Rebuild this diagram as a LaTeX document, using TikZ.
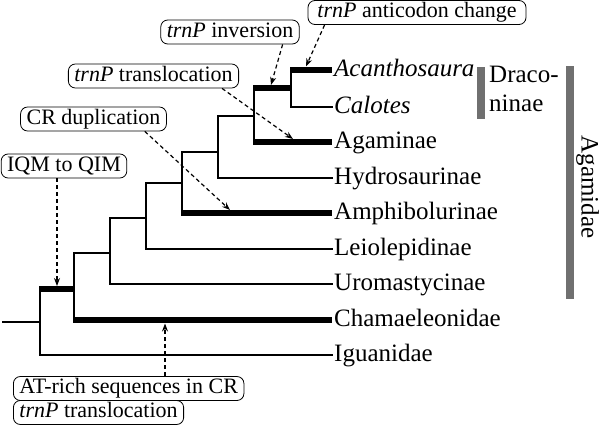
\documentclass[tikz,border=0pt]{standalone}
\usepackage{fontspec}
\setmainfont{Liberation Serif}
\usetikzlibrary{arrows.meta}
\definecolor{bargray}{RGB}{112,112,112}
\begin{document}
\begin{tikzpicture}[x=1pt,y=-1pt,
  br/.style={line width=2pt,line cap=rect},
  thickbr/.style={line width=5.5pt},
  leaf/.style={anchor=west,inner xsep=2pt,inner ysep=0pt,text height=12pt,text depth=0pt,font=\fontsize{25}{29}\selectfont},
  lab/.style={draw,line width=0.8pt,rounded corners=7pt,inner xsep=6pt,inner ysep=1.5pt,text height=15.5pt,text depth=5.5pt,font=\fontsize{22}{26}\selectfont},
  arr/.style={dashed,dash pattern=on 4pt off 3pt,line width=1.2pt,-{Stealth[length=8pt,width=6pt]}},
  grbar/.style={fill=bargray,draw=none}]
\useasboundingbox (0,0) rectangle (600,426);

% internal nodes
\coordinate (R) at (3,322);
\coordinate (A) at (40,322);
\coordinate (B) at (74,289);
\coordinate (C) at (110,253);
\coordinate (D) at (146,218);
\coordinate (E) at (182,183);
\coordinate (F) at (218,152);
\coordinate (G) at (254,116);
\coordinate (H) at (291,88);

% leaves
\node[leaf] (acan) at (332,70) {\itshape Acanthosaura};
\node[leaf] (calo) at (332,107) {\itshape Calotes};
\node[leaf] (agam) at (332,142) {Agaminae};
\node[leaf] (hydr) at (332,178) {Hydrosaurinae};
\node[leaf] (amph) at (332,213) {Amphibolurinae};
\node[leaf] (leio) at (332,249) {Leiolepidinae};
\node[leaf] (urom) at (332,284) {Uromastycinae};
\node[leaf] (cham) at (332,320) {Chamaeleonidae};
\node[leaf] (igua) at (332,355) {Iguanidae};

% thin branches
\draw[br] (R) -- (A);
\draw[br] (A |- B) -- (A |- igua.west) -- (igua.west);
\draw[br] (B |- C) -- (B |- cham.west);
\draw[br] (C |- D) -- (C |- urom.west) -- (urom.west);
\draw[br] (B |- C) -- (C);
\draw[br] (D |- E) -- (D |- leio.west) -- (leio.west);
\draw[br] (C |- D) -- (D);
\draw[br] (E |- F) -- (E |- amph.west);
\draw[br] (D |- E) -- (E);
\draw[br] (F |- G) -- (F |- hydr.west) -- (hydr.west);
\draw[br] (E |- F) -- (F);
\draw[br] (G |- H) -- (G |- agam.west);
\draw[br] (F |- G) -- (G);
\draw[br] (H |- acan.west) -- (H |- calo.west) -- (calo.west);

% thick branches
\draw[thickbr] ([xshift=-1pt]A |- B) -- (B);
\draw[thickbr] ([xshift=-1pt]B |- cham.west) -- (cham.west);
\draw[thickbr] ([xshift=-1pt]E |- amph.west) -- (amph.west);
\draw[thickbr] ([xshift=-1pt]G |- agam.west) -- (agam.west);
\draw[thickbr] ([xshift=-1pt]G |- H) -- (H);
\draw[thickbr] ([xshift=-1pt]H |- acan.west) -- (acan.west);

% labels
\node[lab,minimum width=218pt] (l1) at (417,12.5) {\itshape trnP\upshape\ anticodon change};
\node[lab] (l2) at (230,32) {\itshape trnP\upshape\ inversion};
\node[lab] (l3) at (153.5,76) {\itshape trnP\upshape\ translocation};
\node[lab] (l4) at (93.5,119) {CR duplication};
\node[lab] (l5) at (64,166) {IQM to QIM};
\node[lab,anchor=west] (l6) at (13,388.5) {AT-rich sequences in CR};
\node[lab,anchor=west] (l7) at (13,412.5) {\itshape trnP\upshape\ translocation};

% target points
\coordinate (t1) at (306,66.5);
\coordinate (t2) at (271,85);
\coordinate (t3) at (293,139);
\coordinate (t4) at (230,210);
\coordinate (t5) at (57,286);
\coordinate (t6) at (165,323.5);

\draw[arr] ([xshift=17pt]l1.south west) -- (t1);
\draw[arr] ([xshift=-17pt]l2.south east) -- (t2);
\draw[arr] ([xshift=-17pt]l3.south east) -- (t3);
\draw[arr] ([xshift=-22pt]l4.south east) -- (t4);
\draw[arr] (t5 |- l5.south) -- (t5);
\draw[arr] (t6 |- l6.north) -- (t6);

% clade bars
\fill[grbar] (477,67) rectangle (485,119);
\fill[grbar] (566,66) rectangle (574,299);
\node[anchor=north west,inner sep=0pt,align=left,font=\fontsize{25}{29}\selectfont] (drac) at (489,65.5) {Draco-\\ninae};
\node[rotate=-90,inner sep=0pt,font=\fontsize{25}{29}\selectfont] (agamidae) at (587.5,187) {Agamidae};
\end{tikzpicture}
\end{document}
